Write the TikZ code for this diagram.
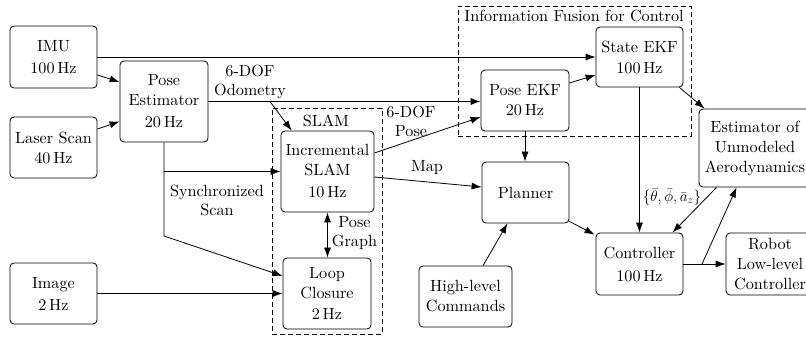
\RequirePackage{fix-cm}
\documentclass[tikz,border=0pt]{standalone}
\usepackage{fontspec}
\setmainfont{lmroman10-regular.otf}[BoldFont=lmroman10-bold.otf, ItalicFont=lmroman10-italic.otf]
\usetikzlibrary{arrows.meta}
\tikzset{
 box/.style={draw, rounded corners=4pt, line width=0.8pt, align=center, inner sep=0pt, font=\fontsize{16.2}{20}\selectfont},
 lbl/.style={align=center, inner sep=0pt, font=\fontsize{16.2}{19}\selectfont},
 arr/.style={-{Latex[length=10pt,width=7pt]}, line width=0.8pt},
 darr/.style={{Latex[length=10pt,width=7pt]}-{Latex[length=10pt,width=7pt]}, line width=0.8pt},
 grp/.style={draw, dash pattern=on 5pt off 3pt, line width=0.8pt, inner sep=0pt},
}
\begin{document}
\begin{tikzpicture}[x=1pt,y=-1pt]
\useasboundingbox (0,0) rectangle (806,339);
% groups
\node[grp, minimum width=110pt, minimum height=226pt] (slamg) at (327,221) {};
\node[grp, minimum width=233pt, minimum height=130pt] (fusg) at (574.5,71) {};
\node[lbl] (slamlbl) at (326,121) {SLAM};
\node[lbl] (fuslbl) at (574,16) {Information Fusion for Control};
% nodes
\node[box, minimum width=87pt, minimum height=62pt] (imu) at (53.5,57) {IMU\\[2pt]100\,Hz};
\node[box, minimum width=88pt, minimum height=81pt] (pe) at (164,101.5) {Pose\\Estimator\\[2pt]20\,Hz};
\node[box, minimum width=87pt, minimum height=61pt] (laser) at (53.5,147.5) {Laser Scan\\40\,Hz};
\node[box, minimum width=87pt, minimum height=61pt] (img) at (53.5,293.5) {Image\\[2pt]2\,Hz};
\node[box, minimum width=93pt, minimum height=81pt] (slam) at (327.5,171.5) {Incremental\\SLAM\\[2pt]10\,Hz};
\node[box, minimum width=88pt, minimum height=71pt] (lc) at (327,293.5) {Loop\\Closure\\[1pt]2\,Hz};
\node[box, minimum width=88pt, minimum height=61pt] (pekf) at (525,100.5) {Pose EKF\\20\,Hz};
\node[box, minimum width=87pt, minimum height=60pt] (state) at (639.5,57) {State EKF\\[1pt]100\,Hz};
\node[box, minimum width=112pt, minimum height=78pt] (est) at (755,148) {Estimator of\\Unmodeled\\Aerodynamics};
\node[box, minimum width=87pt, minimum height=61pt] (planner) at (525.5,192.5) {Planner};
\node[box, minimum width=93pt, minimum height=61pt] (hlc) at (465.5,296.5) {High-level\\Commands};
\node[box, minimum width=87pt, minimum height=62pt] (ctrl) at (639.5,264) {Controller\\[3pt]100\,Hz};
\node[box, minimum width=88pt, minimum height=62pt] (robot) at (770,264) {Robot\\Low-level\\Controller};
% labels
\node[lbl] (odolbl) at (250,82) {6-DOF\\Odometry};
\node[lbl] (synclbl) at (217,200) {Synchronized\\Scan};
\node[lbl] (pglbl) at (354.5,233) {Pose\\Graph};
\node[lbl] (poselbl) at (411,121) {6-DOF\\Pose};
\node[lbl] (maplbl) at (427,168) {Map};
\node[lbl, font=\fontsize{15.2}{17}\selectfont] (thlbl) at (672,197) {$\{\bar\theta,\bar\phi,\bar a_z\}$};
% coordinates
\coordinate (odo) at (270,101.5);
\coordinate (sbend) at (164,236);
\coordinate (cbr) at (702,264);
% edges
\draw[arr] (imu.east) -- (state.west);
\draw[arr] ([yshift=-18pt]imu.east) -- ([yshift=19.5pt]pe.west);
\draw[arr] ([yshift=18.5pt]laser.east) -- ([yshift=-20pt]pe.west);
\draw[arr] (pe.east) -- (pe.east -| pekf.west);
\draw[arr] (odo) -- ([xshift=11pt]slam.north west);
\draw[arr] (pe.south) -- (sbend) -- ([yshift=17.5pt]lc.west);
\draw[arr] (pe.south |- slam.west) -- (slam.west);
\draw[arr] (img.east) -- (img.east -| lc.west);
\draw[darr] (slam.south) -- (slam.south |- lc.north);
\draw[arr] ([yshift=18.5pt]slam.east) -- ([yshift=-16.5pt]pekf.west);
\draw[arr] ([yshift=-5.5pt]slam.east) -- ([yshift=5.5pt]planner.west);
\draw[arr] (pekf.south) -- (pekf.south |- planner.north);
\draw[arr] ([yshift=17.5pt]pekf.east) -- ([yshift=-18pt]state.west);
\draw[arr] (state.south) -- (ctrl.north);
\draw[arr] ([xshift=-4pt]state.south east) -- ([xshift=6pt]est.north west);
\draw[arr] ([xshift=18pt]est.south west) -- ([xshift=-11pt]ctrl.north east);
\draw[arr] (ctrl.east) -- (robot.west);
\draw[arr] (cbr) -- ([xshift=38pt]est.south west);
\draw[arr] ([yshift=2pt]planner.south east) -- ([xshift=-1pt,yshift=-2pt]ctrl.north west);
\draw[arr] ([xshift=17.5pt]hlc.north) -- ([xshift=-18pt]planner.south);
\end{tikzpicture}
\end{document}
